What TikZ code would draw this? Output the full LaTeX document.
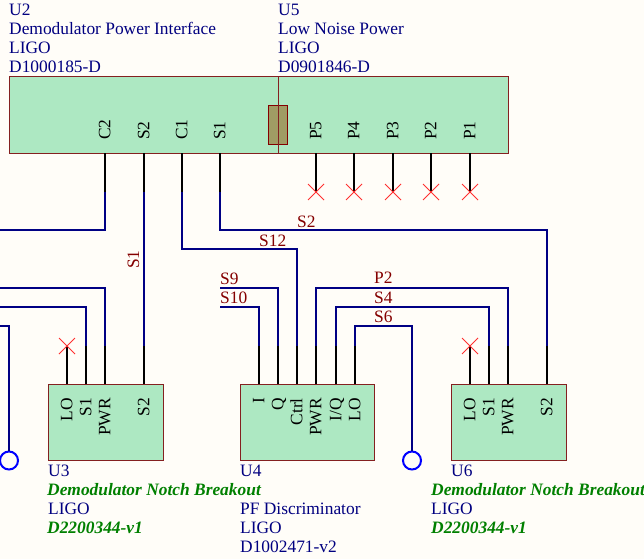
\documentclass[tikz,border=0pt]{standalone}
\usepackage{fontspec}
\setmainfont{Liberation Serif}
\definecolor{bgc}{HTML}{FFFDF8}
\definecolor{wirec}{HTML}{000084}
\definecolor{textc}{HTML}{000080}
\definecolor{labc}{HTML}{840000}
\definecolor{boxf}{HTML}{ADE8C2}
\definecolor{boxd}{HTML}{842020}
\definecolor{greenc}{HTML}{008000}
\definecolor{xc}{HTML}{FF3030}
\definecolor{sepf}{HTML}{A09C64}
\tikzset{
 blockbox/.style={draw=boxd,fill=boxf,line width=1pt},
 wire/.style={draw=wirec,line width=1.7pt,line join=miter},
 pin/.style={draw=black,line width=1.7pt},
 ncx/.style={draw=xc,line width=0.8pt},
 term/.style={draw=blue,line width=2pt,circle,minimum size=18pt,inner sep=0pt},
 info/.style={anchor=base west,inner sep=0pt,text=textc,font=\fontsize{17.4}{19}\selectfont},
 infog/.style={anchor=base west,inner sep=0pt,text=greenc,font=\fontsize{17.4}{19}\selectfont\bfseries\itshape},
 netlab/.style={anchor=base west,inner sep=0pt,text=labc,font=\fontsize{17.4}{19}\selectfont},
 pinup/.style={anchor=mid west,rotate=90,inner sep=0pt,font=\fontsize{17.4}{19}\selectfont},
 pindown/.style={anchor=mid east,rotate=90,inner sep=0pt,font=\fontsize{17.4}{19}\selectfont},
}
\begin{document}
\begin{tikzpicture}[x=1pt,y=-1pt]
\useasboundingbox (0,0) rectangle (644,559);
\fill[bgc] (0,0) rectangle (644,559);
% blocks
\node[blockbox,anchor=north west,minimum width=268.5pt,minimum height=76pt,inner sep=0pt,outer sep=0pt] (U2) at (9.5,77) {};
\node[blockbox,anchor=north west,minimum width=230pt,minimum height=76pt,inner sep=0pt,outer sep=0pt] (U5) at (278,77) {};
\node[draw=labc,fill=sepf,line width=1pt,minimum width=19pt,minimum height=38.5pt,inner sep=0pt] (sep) at (278,125) {};
\draw[draw=boxd,line width=1pt] (U5.north west) -- (U5.south west);
\node[blockbox,anchor=north west,minimum width=115pt,minimum height=76pt,inner sep=0pt,outer sep=0pt] (U3) at (48,384) {};
\node[blockbox,anchor=north west,minimum width=134pt,minimum height=76pt,inner sep=0pt,outer sep=0pt] (U4) at (240,384) {};
\node[blockbox,anchor=north west,minimum width=115pt,minimum height=76pt,inner sep=0pt,outer sep=0pt] (U6) at (451,384) {};
% pin labels
\foreach \n/\t/\x in {c2/C2/105,s2/S2/144,c1/C1/182,s1/S1/220,p5/P5/316,p4/P4/354,p3/P3/393,p2/P2/431,p1/P1/470}{
 \node[pinup] (t\n) at ({\x+3},140) {\t};
 \coordinate (a\n) at (\x,153);
 \coordinate (b\n) at (\x,192);
}
\foreach \n/\t/\x in {lo/LO/67,si/S1/86,pw/PWR/105,st/S2/144}{
 \node[pindown] (l3\n) at ({\x+3},398) {\t};
 \coordinate (a3\n) at (\x,384);
 \coordinate (b3\n) at (\x,346);
}
\foreach \n/\t/\x in {lo/LO/470,si/S1/489,pw/PWR/508,st/S2/547}{
 \node[pindown] (l6\n) at ({\x+3},398) {\t};
 \coordinate (a6\n) at (\x,384);
 \coordinate (b6\n) at (\x,346);
}
\foreach \n/\t/\x in {i/I/259,q/Q/278,c/Ctrl/297,p/PWR/316,iq/I\slash Q/336,lo/LO/355}{
 \node[pindown] (l4\n) at ({\x+3},398) {\t};
 \coordinate (a4\n) at (\x,384);
 \coordinate (b4\n) at (\x,346);
}
% free ends
\coordinate (e1) at (0,230);
\coordinate (e2) at (0,288);
\coordinate (e3) at (0,307);
\coordinate (e4) at (0,326);
\coordinate (e5) at (220,288);
\coordinate (e6) at (220,307);
\node[term] (T1) at (9,460.5) {};
\node[term] (T2) at (412,460.5) {};
% wires
\draw[wire] (bc2) |- (e1);
\draw[wire] (bs2) -- (b3st);
\draw[wire] (bc1) -- (182,249) -- (297,249) -- (b4c);
\draw[wire] (bs1) -- (220,230) -- (547,230) -- (b6st);
\draw[wire] (b3pw) |- (e2);
\draw[wire] (b3si) |- (e3);
\draw[wire] (e4) -| (T1.north);
\draw[wire] (b4i) |- (e6);
\draw[wire] (b4q) |- (e5);
\draw[wire] (b4p) -- (316,288) -- (508,288) -- (b6pw);
\draw[wire] (b4iq) -- (336,307) -- (489,307) -- (b6si);
\draw[wire] (b4lo) -- (355,326) -- (412,326) -- (T2.north);
% pins
\foreach \n in {c2,s2,c1,s1,p5,p4,p3,p2,p1}{\draw[pin] (a\n) -- (b\n);}
\foreach \n in {lo,si,pw,st}{\draw[pin] (a3\n) -- (b3\n); \draw[pin] (a6\n) -- (b6\n);}
\foreach \n in {i,q,c,p,iq,lo}{\draw[pin] (a4\n) -- (b4\n);}
% no-connects
\foreach \c in {bp5,bp4,bp3,bp2,bp1,b3lo,b6lo}{
 \draw[ncx] ([shift={(-8,-8)}]\c) -- ([shift={(8,8)}]\c);
 \draw[ncx] ([shift={(-8,8)}]\c) -- ([shift={(8,-8)}]\c);
}
% net labels
\node[netlab,rotate=90] (nS1) at (139,269) {S1};
\node[netlab] (nS2) at (297,227) {S2};
\node[netlab] (nS12) at (259,246) {S12};
\node[netlab] (nS9) at (220,284) {S9};
\node[netlab] (nS10) at (220,303) {S10};
\node[netlab] (nP2) at (374,283) {P2};
\node[netlab] (nS4) at (374,303) {S4};
\node[netlab] (nS6) at (374,322) {S6};
% info
\node[info] (iU2) at (9,16) {U2};
\node[info] (iU2b) at (9,35) {Demodulator Power Interface};
\node[info] (iU2c) at (9,54) {LIGO};
\node[info] (iU2d) at (9,73) {D1000185-D};
\node[info] (iU5) at (278,16) {U5};
\node[info] (iU5b) at (278,35) {Low Noise Power};
\node[info] (iU5c) at (278,54) {LIGO};
\node[info] (iU5d) at (278,73) {D0901846-D};
\node[info] (iU3) at (48,476) {U3};
\node[infog] (iU3b) at (47,495) {Demodulator Notch Breakout};
\node[info] (iU3c) at (48,514) {LIGO};
\node[infog] (iU3d) at (47,533) {D2200344-v1};
\node[info] (iU4) at (240,476) {U4};
\node[info] (iU4b) at (240,514) {PF Discriminator};
\node[info] (iU4c) at (240,533) {LIGO};
\node[info] (iU4d) at (240,552) {D1002471-v2};
\node[info] (iU6) at (451,476) {U6};
\node[infog] (iU6b) at (431,495) {Demodulator Notch Breakout};
\node[info] (iU6c) at (431,514) {LIGO};
\node[infog] (iU6d) at (431,533) {D2200344-v1};
\end{tikzpicture}
\end{document}
